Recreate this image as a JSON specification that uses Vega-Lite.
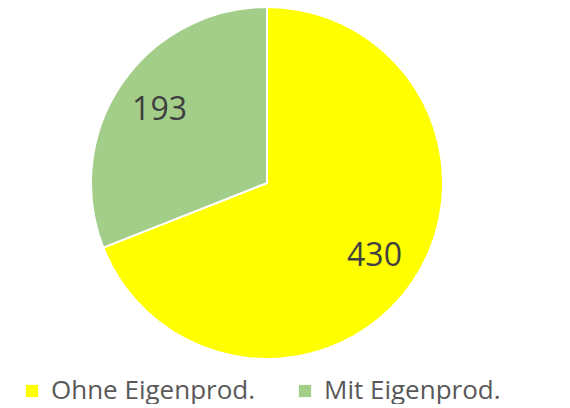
{
  "$schema": "https://vega.github.io/schema/vega-lite/v6.json",
  "width": 534,
  "height": 366,
  "padding": 0,
  "autosize": {"type": "pad"},
  "background": "white",
  "config": {"view": {"stroke": null}},
  "data": {"values": [
    {"category": "Ohne Eigenprod.", "value": 430, "order": 1},
    {"category": "Mit Eigenprod.", "value": 193, "order": 2}
  ]},
  "encoding": {
    "theta": {"field": "value", "type": "quantitative", "stack": true},
    "order": {"field": "order", "type": "quantitative"},
    "color": {
      "field": "category", "type": "nominal",
      "scale": {"domain": ["Ohne Eigenprod.", "Mit Eigenprod."], "range": ["#FFFF00", "#A3CE8A"]},
      "legend": {
        "title": null, "orient": "none", "direction": "horizontal",
        "legendX": 19, "legendY": 378, "padding": 0,
        "symbolType": "square", "symbolSize": 150, "symbolStrokeWidth": 0,
        "labelFont": "Open Sans", "labelFontSize": 26, "labelColor": "#595959",
        "labelLimit": 400,
        "columnPadding": 36, "symbolOffset": 0, "labelOffset": 6
      }
    }
  },
  "layer": [
    {"mark": {"type": "arc", "outerRadius": 176, "stroke": "white", "strokeWidth": 2}},
    {"mark": {"type": "text", "radius": 130, "font": "Open Sans", "fontSize": 32, "fill": "#404040"},
     "encoding": {"text": {"field": "value", "type": "quantitative"}}}
  ]
}
